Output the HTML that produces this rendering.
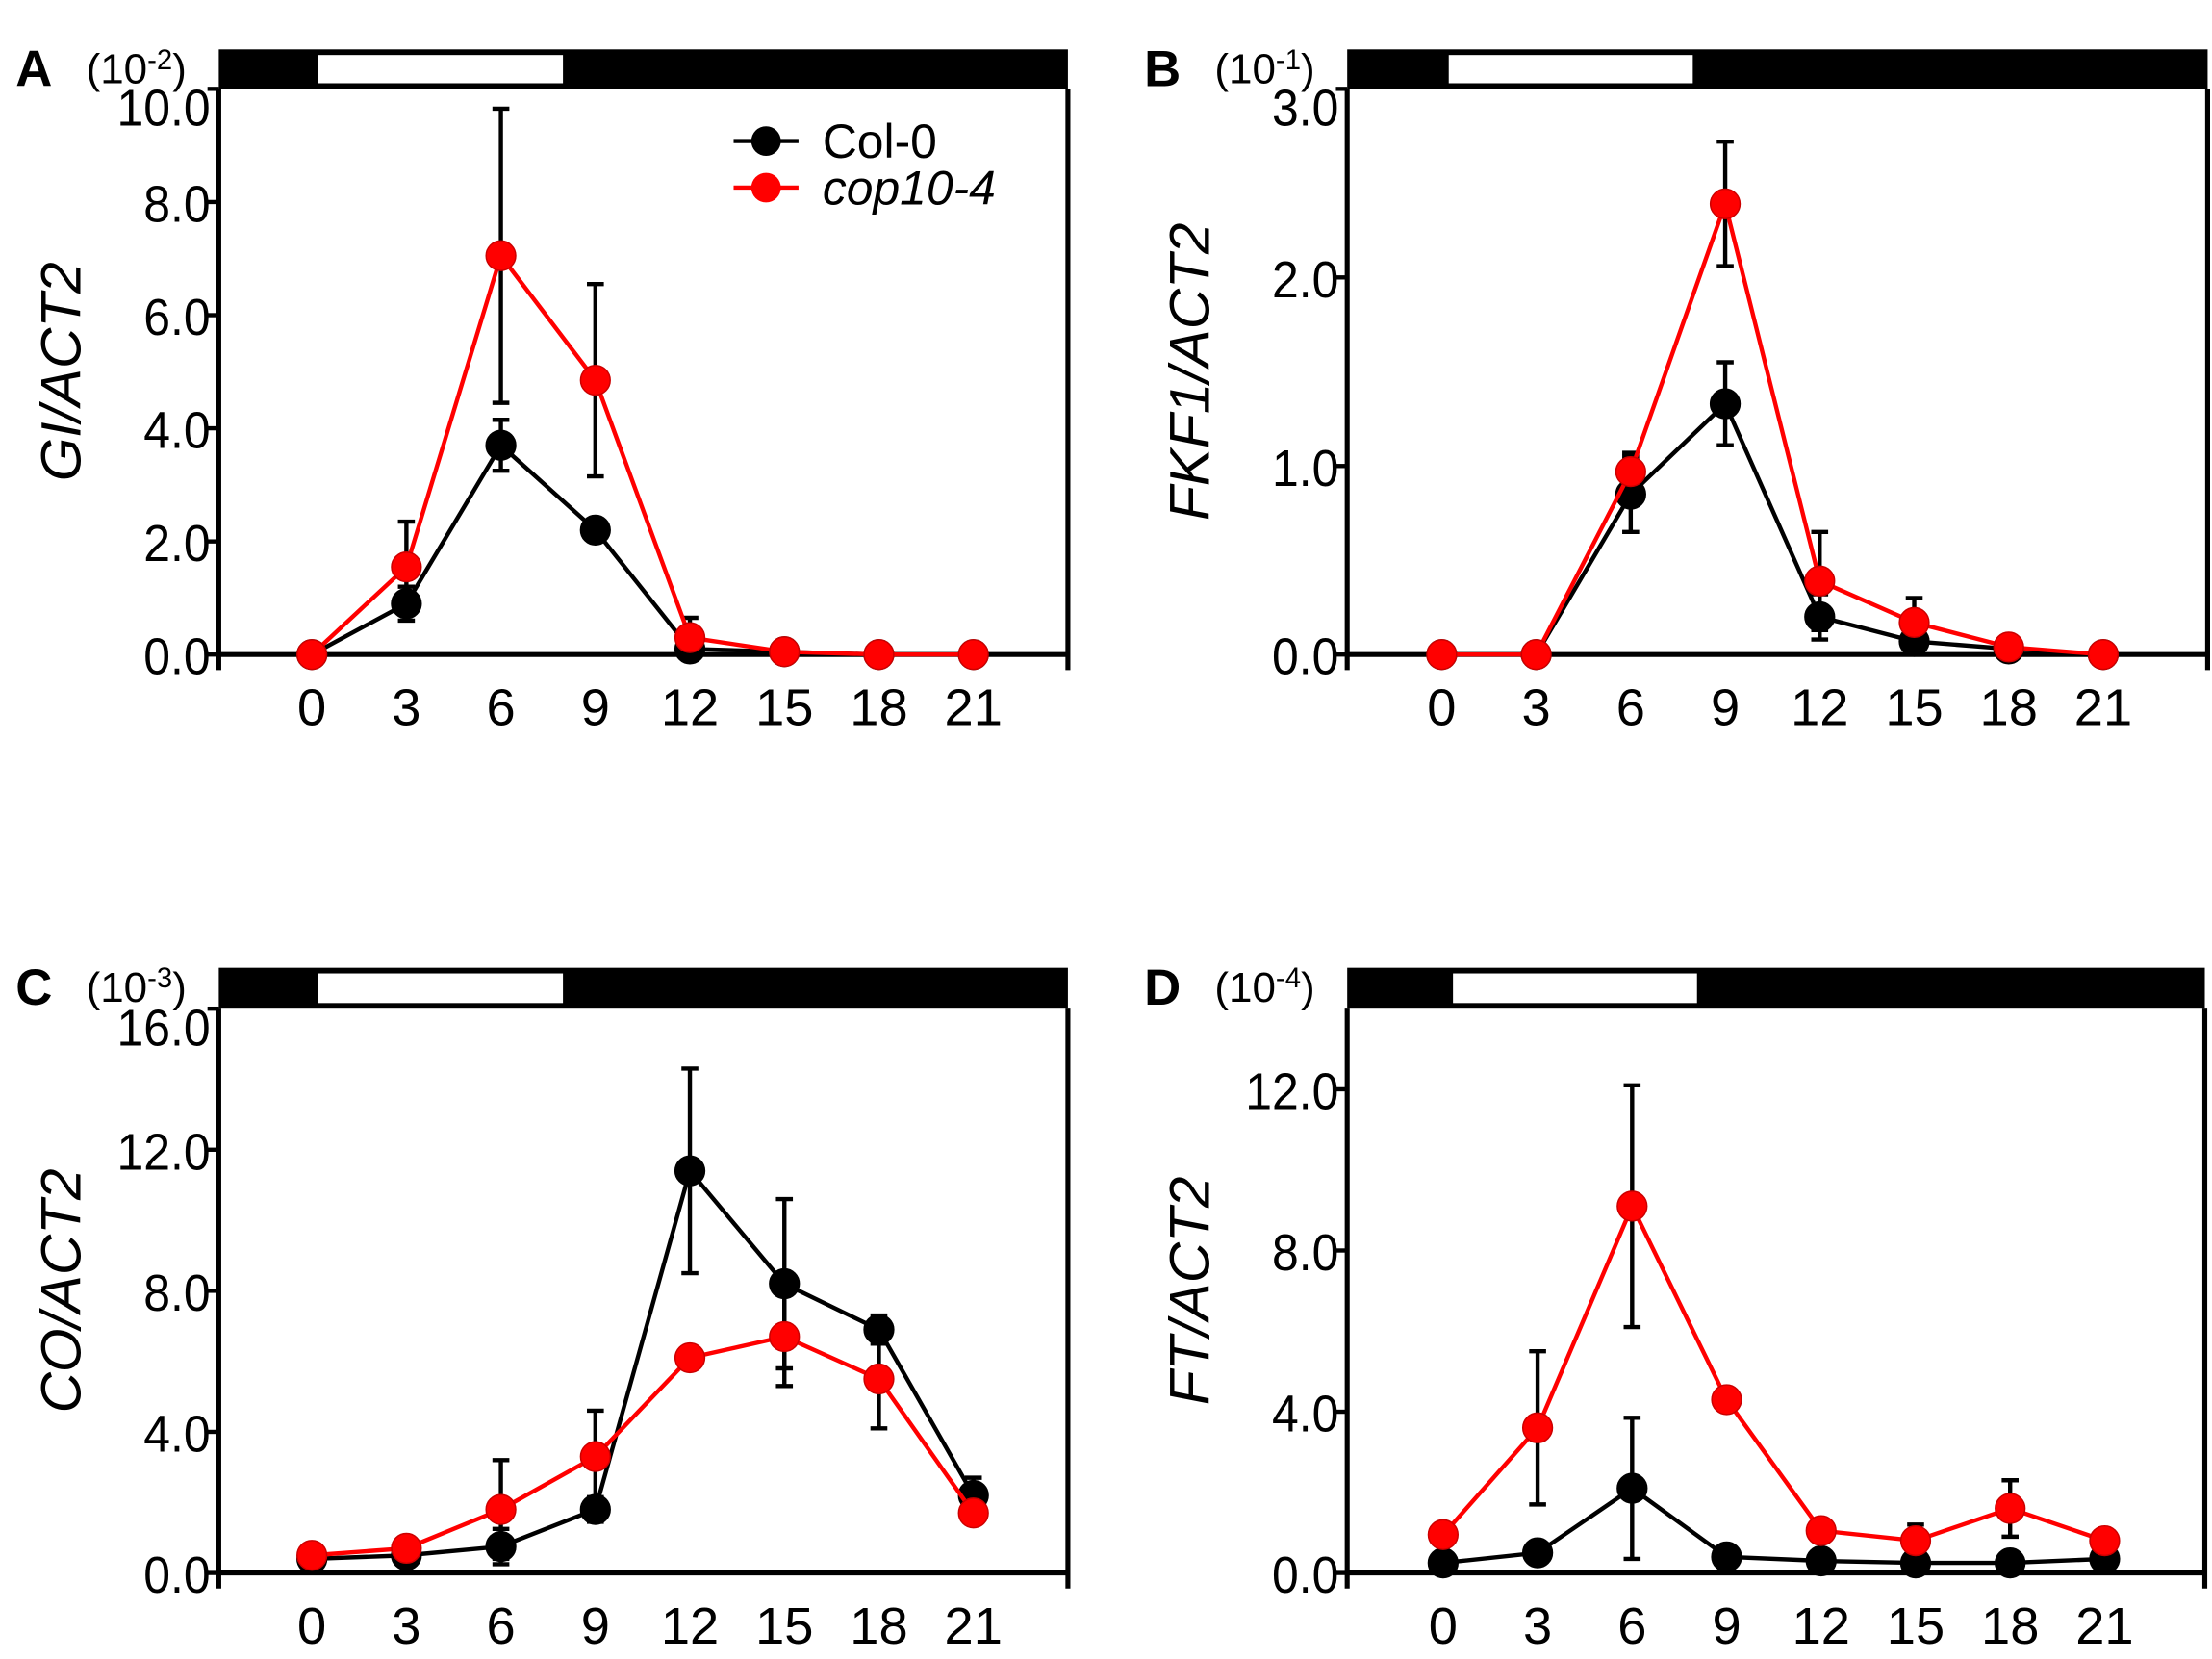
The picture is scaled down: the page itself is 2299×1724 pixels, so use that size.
<!DOCTYPE html>
<html><head><meta charset="utf-8">
<style>
html,body{margin:0;padding:0;background:#fff;}
svg{display:block;}
text{font-family:"Liberation Sans",Arial,sans-serif;fill:#000;}
</style></head>
<body>
<svg id="fig" width="2299" height="1724" viewBox="0 0 1568 1176" xmlns="http://www.w3.org/2000/svg"></svg>
<script>
const hours = [0,3,6,9,12,15,18,21];
// Panel A: GI/ACT2 (x10^-2)
const aCol = [0,0.9,3.7,2.2,0.1,0.05,0,0];
const aColErr = [0,0.3,0.45,0.15,0.55,0,0,0];
const aCop = [0,1.55,7.05,4.85,0.3,0.05,0,0];
const aCopErr = [0,0.8,2.6,1.7,0,0,0,0];
const aTicks = ["0.0","2.0","4.0","6.0","8.0","10.0"];
// Panel B: FKF1/ACT2 (x10^-1)
const bCol = [0,0,0.85,1.33,0.2,0.07,0.03,0];
const bColErr = [0,0,0.2,0.22,0.12,0,0,0];
const bCop = [0,0,0.97,2.39,0.39,0.17,0.04,0];
const bCopErr = [0,0,0.1,0.33,0.26,0.13,0,0];
const bTicks = ["0.0","1.0","2.0","3.0"];
// Panel C: CO/ACT2 (x10^-3)
const cCol = [0.4,0.5,0.75,1.8,11.4,8.2,6.9,2.2];
const cColErr = [0,0,0.5,0.35,2.9,2.4,0.4,0.5];
const cCop = [0.5,0.7,1.8,3.3,6.1,6.7,5.5,1.7];
const cCopErr = [0,0,1.4,1.3,0,1.4,1.4,0];
const cTicks = ["0.0","4.0","8.0","12.0","16.0"];
// Panel D: FT/ACT2 (x10^-4)
const dCol = [0.25,0.5,2.1,0.4,0.3,0.25,0.25,0.35];
const dColErr = [0,0,1.75,0,0,0,0,0];
const dCop = [0.95,3.6,9.1,4.3,1.05,0.8,1.6,0.8];
const dCopErr = [0,1.9,3.0,0,0,0.4,0.7,0];
const dTicks = ["0.0","4.0","8.0","12.0"];

const NS="http://www.w3.org/2000/svg";
const svg=document.getElementById('fig');
function mk(tag,attrs,parent){const e=document.createElementNS(NS,tag);for(const k in attrs)e.setAttribute(k,attrs[k]);(parent||svg).appendChild(e);return e;}

function panel(cfg){
  const g=mk('g',{});
  
  
  const {L,R,barTop,top,bottom,x0,x21,ymax,tickStep}=cfg;
  const X=h=>x0+(x21-x0)*h/21;
  const Y=v=>bottom-(bottom-top)*v/ymax;
  const bar=mk('rect',{x:L,y:barTop,width:R-L,height:top-barTop,fill:'#000'},g);
  
  
  const wb=mk('rect',{x:cfg.wL,y:barTop+4,width:cfg.wR-cfg.wL,height:top-barTop-8,fill:'#fff'},g);
  
  
  mk('line',{x1:L,y1:top,x2:L,y2:bottom+11,stroke:'#000','stroke-width':3.5},g);
  mk('line',{x1:R,y1:top,x2:R,y2:bottom+11,stroke:'#000','stroke-width':3.5},g);
  mk('line',{x1:L,y1:bottom,x2:R,y2:bottom,stroke:'#000','stroke-width':3.5},g);
  cfg.ticks.forEach((t,i)=>{
    const v=i*tickStep,y=Y(v);
    mk('line',{x1:L-8,y1:y,x2:L,y2:y,stroke:'#000','stroke-width':3},g);
    const off=(y-top<8)?12:0;
    const tx=mk('text',{x:L-6,y:y+14+off,'text-anchor':'end','font-size':37,transform:`translate(${L-6},0) scale(0.92,1) translate(${-(L-6)},0)`},g);
    tx.textContent=t;
    
    
  });
  hours.forEach(h=>{
    const tx=mk('text',{x:X(h),y:bottom+50,'text-anchor':'middle','font-size':37},g);
    tx.textContent=h;
    
    
  });
  const yt=mk('text',{x:0,y:0,'text-anchor':'middle','font-size':40,'font-style':'italic',transform:`translate(${L-98},${(top+bottom)/2}) rotate(-90)`},g);
  yt.textContent=cfg.title;
  
  
  const lt=mk('text',{x:L-144,y:barTop+26,'font-size':36,'font-weight':'bold'},g);
  lt.textContent=cfg.letter;
  
  
  const ex=mk('text',{x:L-94,y:barTop+24,'font-size':30},g);
  ex.innerHTML='(10<tspan dy="-10" font-size="20">'+cfg.exp+'</tspan><tspan dy="10">)</tspan>';
  
  
  const series=[[cfg.col,cfg.colErr,'#000','col-0'],[cfg.cop,cfg.copErr,'#f00','cop10-4']];
  series.forEach(([vals,errs,color,name])=>{
    const sg=mk('g',{},g);
    
    
    vals.forEach((v,i)=>{
      if(errs[i]>0){
        const x=X(hours[i]),y1=Y(v+errs[i]),y2=Y(Math.max(0,v-errs[i]));
        mk('line',{x1:x,y1:y1,x2:x,y2:y2,stroke:'#000','stroke-width':3},sg);
        mk('line',{x1:x-6,y1:y1,x2:x+6,y2:y1,stroke:'#000','stroke-width':3},sg);
        mk('line',{x1:x-6,y1:y2,x2:x+6,y2:y2,stroke:'#000','stroke-width':3},sg);
      }
    });
    const pts=vals.map((v,i)=>X(hours[i])+','+Y(v)).join(' ');
    mk('polyline',{points:pts,fill:'none',stroke:color,'stroke-width':3},sg);
    vals.forEach((v,i)=>{
      const c=mk('circle',{cx:X(hours[i]),cy:Y(v),r:10.5,fill:color,stroke:color==='#f00'?'#c00':'#000','stroke-width':1},sg);
      
      
    });
  });
  if(cfg.legend){
    const lg=mk('g',{},g);
    
    
    [['Col-0','#000','normal',100],['cop10-4','#f00','italic',133]].forEach(([t,c,st,y])=>{
      mk('line',{x1:520,y1:y,x2:566,y2:y,stroke:c,'stroke-width':3},lg);
      mk('circle',{cx:543,cy:y,r:10.5,fill:c},lg);
      const tx=mk('text',{x:583,y:y+12,'font-size':34,'font-style':st},lg);
      tx.textContent=t;
      
      
    });
  }
}
panel({letter:'A',exp:'-2',title:'GI/ACT2',L:155,R:757,barTop:35,top:63,bottom:464,x0:221,x21:690,ymax:10,tickStep:2,ticks:aTicks,col:aCol,colErr:aColErr,cop:aCop,copErr:aCopErr,wL:225,wR:399,legend:true});
panel({letter:'B',exp:'-1',title:'FKF1/ACT2',L:955,R:1565,barTop:35,top:63,bottom:464,x0:1022,x21:1491,ymax:3,tickStep:1,ticks:bTicks,col:bCol,colErr:bColErr,cop:bCop,copErr:bCopErr,wL:1027,wR:1200});
panel({letter:'C',exp:'-3',title:'CO/ACT2',L:155,R:757,barTop:686,top:715,bottom:1115,x0:221,x21:690,ymax:16,tickStep:4,ticks:cTicks,col:cCol,colErr:cColErr,cop:cCop,copErr:cCopErr,wL:225,wR:399});
panel({letter:'D',exp:'-4',title:'FT/ACT2',L:955,R:1563,barTop:686,top:715,bottom:1115,x0:1023,x21:1492,ymax:14,tickStep:4,ticks:dTicks,col:dCol,colErr:dColErr,cop:dCop,copErr:dCopErr,wL:1030,wR:1203});
</script>
</body></html>
